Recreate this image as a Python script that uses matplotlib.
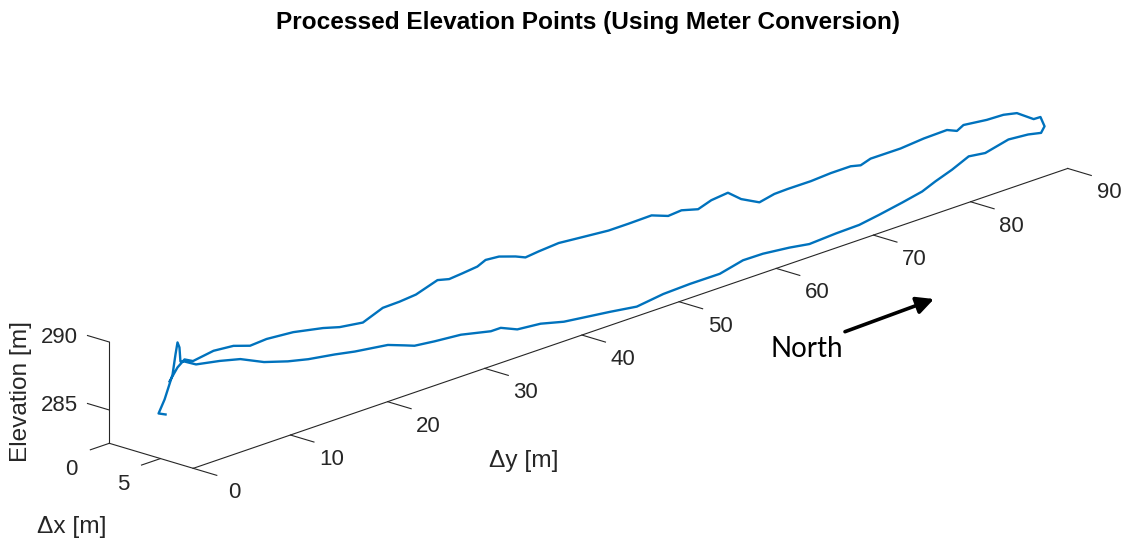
import numpy as np
import matplotlib
matplotlib.use("Agg")
import matplotlib.pyplot as plt
from matplotlib.patches import FancyArrowPatch
from mpl_toolkits.mplot3d import proj3d

plt.rcParams['font.family'] = ['Liberation Sans', 'DejaVu Sans']

# ---------------- data (track of the processed GPS points) ----------------
dx = [3, 3, 3, 3, 3, 3, 3, 3, 3,
      3.47, 4.45, 5.28, 6.25, 7.22, 8, 8, 8, 8, 8, 8, 8, 8, 8, 8, 8, 8, 8,
      8, 8, 8, 8, 8, 8, 8, 8, 8, 8, 8, 8, 8, 8, 8, 8, 8, 8, 8, 8, 8, 7.5, 7,
      6.2, 6, 5.8, 5.4, 5.2,
      5, 5, 5, 5, 5, 5, 5, 5, 5, 5, 5, 5, 5, 5, 5, 5, 5, 5, 5, 5, 5, 5, 5,
      5, 5, 5, 5, 5, 5, 5, 5, 5, 5, 5, 5, 5, 5, 5, 5, 5, 5, 5, 5, 5, 5,
      4, 3, 3, 3]
dy = [2.63, 1.91, 2.53, 3.35, 3.65, 3.86, 4.06, 4.16, 4.57,
      5.27, 6.69, 7.92, 9.34, 10.77, 12.05, 14.78, 16.83, 18.88, 20.24, 21.95,
      22.98, 25.03, 27.76, 30.84, 31.86, 33.56, 35.96, 38.35, 40.40, 43.13,
      45.86, 48.59, 51.33, 54.40, 56.79, 58.84, 61.57, 63.62, 66.35, 68.75,
      70.80, 73.18, 75.23, 76.59, 78.30, 80.02, 81.72, 84.11, 86.66, 88.52,
      89.72, 89.51, 89.02, 87.72, 86.54,
      85.04, 82.64, 81.97, 80.94, 78.55, 76.16, 73.08, 72.06, 71.03, 68.99,
      66.94, 64.55, 63.18, 61.64, 59.76, 58.40, 56.69, 55.33, 53.62, 52.25,
      50.54, 48.16, 46.11, 43.37, 40.98, 38.93, 37.56, 36.54, 34.84, 33.46,
      32.61, 31.08, 29.71, 28.51, 26.29, 24.59, 22.88, 20.83, 18.44, 16.73,
      13.66, 10.92, 9.22, 7.51, 5.46,
      4.40, 4.58, 3.86, 3.04]
elev = [284.70, 284.95, 285.83, 287.46, 288.86, 289.70, 289.28, 288.22, 288.12,
        287.84, 287.97, 287.99, 287.64, 287.56, 287.58, 287.26, 286.97, 286.76,
        286.62, 286.17, 285.89, 285.71, 285.53, 285.03, 285.03, 284.50, 284.33,
        283.89, 283.70, 283.45, 283.16, 283.42, 283.49, 283.48, 283.89, 283.87,
        283.65, 283.41, 283.52, 283.56, 283.80, 284.12, 284.43, 284.84, 285.28,
        285.84, 285.67, 286.08, 285.71, 285.26,
        285.27, 285.96, 285.88, 286.55, 286.67,
        286.62, 286.83, 286.56, 286.88, 286.84, 286.69, 286.70, 286.46, 286.64,
        286.64, 286.55, 286.56, 286.53, 286.29, 286.99, 287.79, 287.66, 287.33,
        287.67, 287.59, 288.05, 288.02, 288.02, 288.20, 288.36, 288.25, 288.14,
        288.46, 288.87, 288.96, 288.68, 288.56, 288.47, 288.69, 288.17, 288.06,
        288.03, 287.45, 287.70, 288.05, 288.50, 288.67, 288.59, 289.00, 289.14,
        288.42, 288.27, 287.86, 287.03]

x_lim = [0, 8.2]
y_lim = [0, 90]
z_lim = [282.55, 290]
x_ticks = [0, 5]
y_ticks = [0, 10, 20, 30, 40, 50, 60, 70, 80, 90]
z_ticks = [285, 290]

title = "Processed Elevation Points (Using Meter Conversion)"

# ---------------- figure ----------------
W, H = 1127, 546
fig = plt.figure(figsize=(W / 100, H / 100), dpi=100)
ax = fig.add_axes([0, 0, 1, 1], projection='3d', proj_type='ortho')
ax.set_xlim(*x_lim)
ax.set_ylim(*y_lim)
ax.set_zlim(*z_lim)
Lx = x_lim[1] - x_lim[0]
Ly = y_lim[1] - y_lim[0]
Lz = z_lim[1] - z_lim[0]
ax.set_box_aspect((Lx * 14.0, Ly * 14.25, Lz * 14.35))
ax.view_init(elev=18.65, azim=-47.0)
ax.set_axis_off()
ax.patch.set_visible(False)

line_col = '#0072BD'
axis_col = '#262626'
zmin = z_lim[0]
xmax = x_lim[1]

ax.plot(dx, dy, elev, color=line_col, lw=1.7, zorder=5)

# axis lines (MATLAB style, on the back/bottom edges)
ax.plot([0, 0], [0, 0], z_lim, color=axis_col, lw=0.8)
ax.plot(x_lim, [0, 0], [zmin, zmin], color=axis_col, lw=0.8)
ax.plot([xmax, xmax], y_lim, [zmin, zmin], color=axis_col, lw=0.8)

for zt in z_ticks:
    ax.plot([0, -2.13], [0, 0], [zt, zt], color=axis_col, lw=0.8)
for xt in x_ticks:
    ax.plot([xt, xt], [0, -1.95], [zmin, zmin], color=axis_col, lw=0.8)
for yt in y_ticks:
    ax.plot([xmax, xmax + 2.3], [yt, yt], [zmin, zmin], color=axis_col, lw=0.8)

# ---------------- fit the 3D box into the page ----------------
fig.canvas.draw()


def to_px(p):
    xs, ys, _ = proj3d.proj_transform(p[0], p[1], p[2], ax.M)
    return np.array(ax.transData.transform((xs, ys)))


A3 = (x_lim[0], y_lim[0], zmin)
B3 = (xmax, y_lim[1], zmin)
DA = np.array([109.3, H - 443.3])
DB = np.array([1067.7, H - 168.3])
PA, PB = to_px(A3), to_px(B3)
k = np.linalg.norm(DB - DA) / np.linalg.norm(PB - PA)
bb = ax.get_position()
side = bb.width * W
c = np.array([(bb.x0 + bb.x1) / 2 * W, (bb.y0 + bb.y1) / 2 * H])
c_new = DA - k * (PA - c)
side_new = side * k
ax.set_position([(c_new[0] - side_new / 2) / W, (c_new[1] - side_new / 2) / H,
                 side_new / W, side_new / H])
fig.canvas.draw()

# ---------------- tick labels (placed at projected 3D points) ----------------
tick_fs = 16


def label_at(p, s, ha):
    px = to_px(p)
    fig.text(px[0] / W, px[1] / H, s, ha=ha, va='center',
             fontsize=tick_fs, color=axis_col)


for zt in z_ticks:
    label_at((-3.1, 0, zt - 0.35), f"{zt}", 'right')
for xt in x_ticks:
    label_at((xt, -3.86, zmin - 0.95), f"{xt}", 'center')
for yt in y_ticks:
    label_at((xmax + 4.02, yt, zmin - 0.9), f"{yt}", 'center')

# ---------------- labels ----------------
lab_fs = 17.6


def fpx(x, y):
    return x / W, 1 - y / H


fig.text(*fpx(588.5, 22), title, ha='center', va='center', fontsize=17.6,
         fontweight='bold', color='black')
fig.text(*fpx(72, 527), "\u0394x [m]", ha='center', va='center',
         fontsize=lab_fs, color=axis_col)
fig.text(*fpx(524, 461), "\u0394y [m]", ha='center', va='center',
         fontsize=lab_fs, color=axis_col)
fig.text(*fpx(21, 392), "Elevation [m]", ha='center', va='center',
         rotation=90, fontsize=lab_fs, color=axis_col)

fig.text(*fpx(807, 356.7), "North", ha='center', va='baseline',
         fontsize=20, family=['Lato', 'DejaVu Sans'], color='black')
arrow = FancyArrowPatch(posA=fpx(845, 331.7), posB=fpx(934, 299.0),
                        transform=fig.transFigure, arrowstyle='-|>',
                        mutation_scale=26, lw=2.6, color='black',
                        shrinkA=0, shrinkB=0)
fig.add_artist(arrow)

fig.savefig('out.png', dpi=100)
